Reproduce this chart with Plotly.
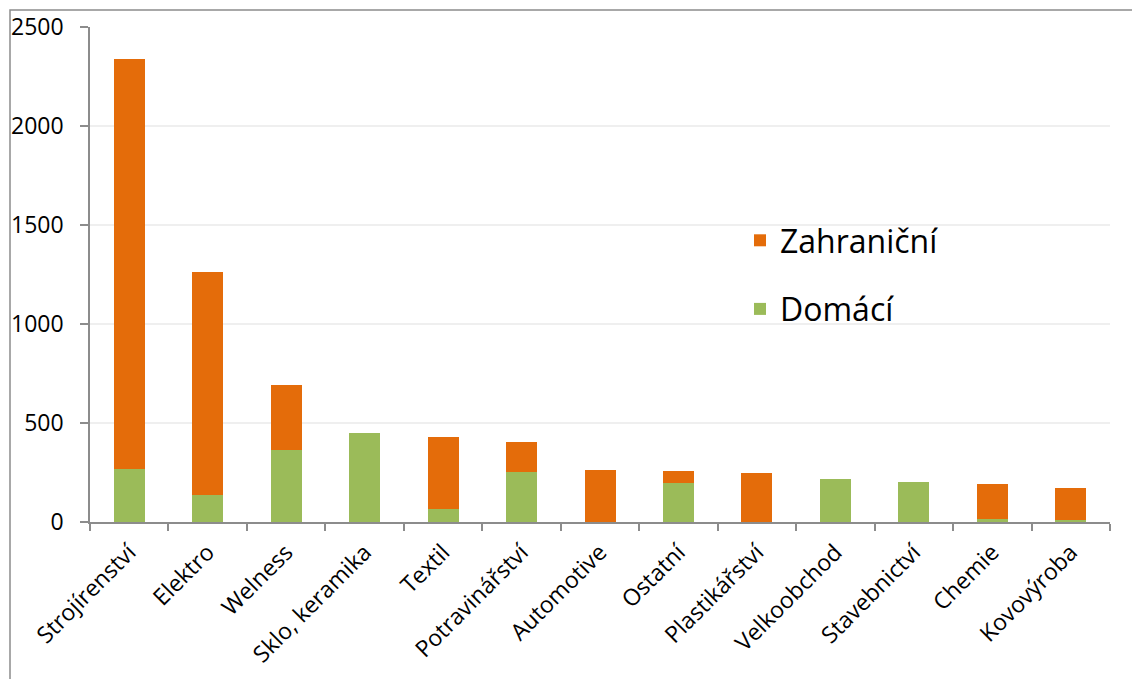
import plotly.graph_objects as go

categories = ["Strojírenství", "Elektro", "Welness", "Sklo, keramika", "Textil",
              "Potravinářství", "Automotive", "Ostatní", "Plastikářství",
              "Velkoobchod", "Stavebnictví", "Chemie", "Kovovýroba"]
domaci = [268, 134, 362, 451, 67, 252, 0, 195, 0, 216, 201, 16, 10]
zahranicni = [2070, 1131, 329, 0, 363, 152, 264, 62, 245, 0, 0, 177, 162]
y_ticks = [0, 500, 1000, 1500, 2000, 2500]

GREEN = "#9bbb59"
ORANGE = "#e46c0a"
FONT = "Open Sans"

W, H = 1140, 679
L, R, T, B = 82, 38, 19, 165
pw, ph = W - L - R, H - T - B

fig = go.Figure()
fig.add_trace(go.Bar(x=categories, y=domaci, name="Domácí", marker_color=GREEN,
                     marker_line_width=0, legendgroup="d", legendrank=2))
fig.add_trace(go.Bar(x=categories, y=zahranicni, name="Zahraniční", marker_color=ORANGE,
                     marker_line_width=0, legendgroup="z", legendrank=1))

fig.update_layout(
    width=W, height=H,
    margin=dict(l=L, r=R, t=T, b=B, autoexpand=False),
    barmode="stack", bargap=0.605,
    plot_bgcolor="white", paper_bgcolor="white",
    font=dict(family=FONT, color="black"),
    legend=dict(x=(732 - L) / pw, y=1 - (205 - T) / ph, xanchor="left", yanchor="top",
                traceorder="grouped", tracegroupgap=24,
                font=dict(size=32, family=FONT), bgcolor="rgba(0,0,0,0)"),
    xaxis=dict(tickangle=-45, tickfont=dict(size=23, family=FONT), automargin=False,
               showline=True, linecolor="#8c8c8c", linewidth=1.5,
               ticks="outside", tickson="boundaries", ticklen=7, tickcolor="#8c8c8c",
               tickwidth=1.5, showgrid=False, ticklabelstandoff=6),
    yaxis=dict(range=[0, 2500], tickvals=y_ticks, tickfont=dict(size=23, family=FONT),
               automargin=False,
               showline=True, linecolor="#8c8c8c", linewidth=1.5,
               ticks="outside", ticklen=8, tickcolor="#8c8c8c", tickwidth=1.5,
               showgrid=True, gridcolor="#efefef", gridwidth=1.5, zeroline=False,
               ticklabelstandoff=12),
)

fig.add_shape(type="rect", xref="paper", yref="paper",
              x0=(2 - L) / pw, x1=(W + 20 - L) / pw,
              y0=-(B + 30) / ph, y1=1 + (T - 2) / ph,
              line=dict(color="#8c8c8c", width=1.5), fillcolor="rgba(0,0,0,0)", layer="below")

fig.write_html("out.html")
